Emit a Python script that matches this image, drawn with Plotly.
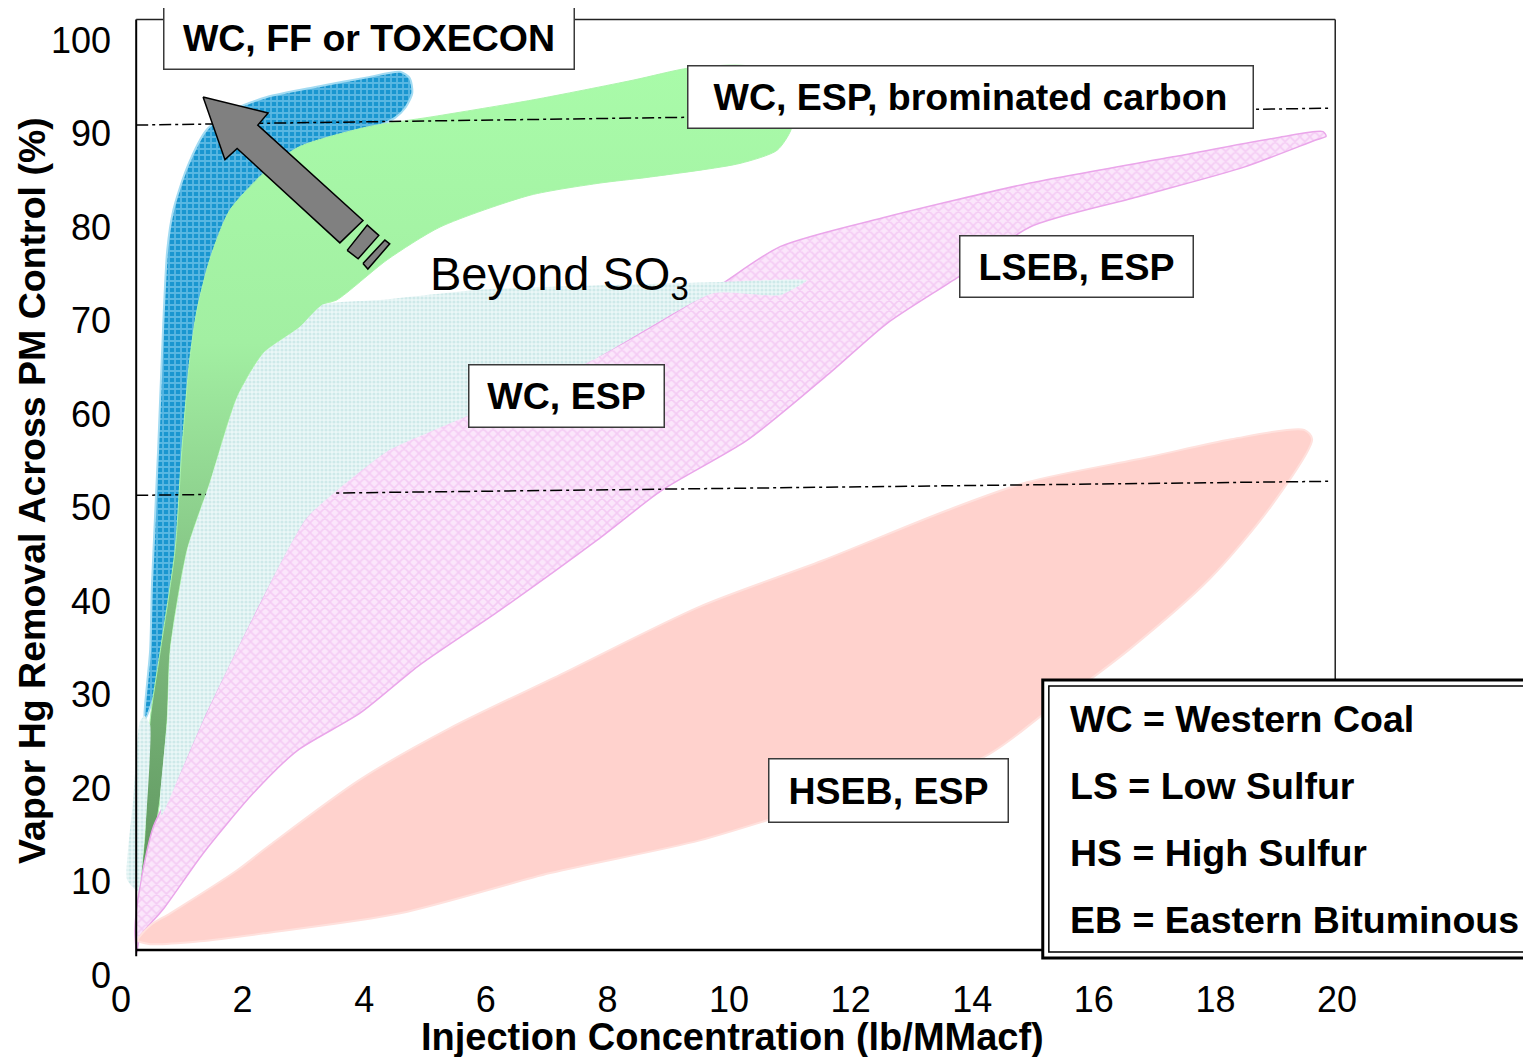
import plotly.graph_objects as go

# outlines of each performance band, x = injection (lb/MMacf), y = Hg removal (%)
toxecon_x = [0.39, 0.48, 0.51, 0.61, 0.67, 0.76, 0.86, 1.09, 1.41, 1.84, 2.40, 3.22, 4.05, 4.59, 4.75,
             4.79, 4.67, 4.51, 4.26, 3.27, 2.61, 1.96, 1.60, 1.35, 1.22, 1.07, 0.95, 0.77, 0.39]
toxecon_y = [27.3, 34.8, 41.9, 56.1, 65.8, 77.5, 81.8, 86.4, 90.4, 92.5, 93.9, 95.0, 96.0, 96.6, 95.9,
             94.3, 92.7, 91.7, 90.9, 88.8, 86.6, 81.8, 76.5, 71.1, 65.8, 56.1, 45.5, 34.8, 27.3]

brom_x = [0.28, 0.39, 0.48, 0.64, 0.89, 1.00, 1.13, 1.25, 1.46, 1.79, 2.45, 2.94, 4.05, 5.13, 6.78, 8.42,
          9.34, 10.18, 10.84, 11.09, 11.02, 10.79, 10.18, 8.65, 7.88, 6.73, 5.25, 4.38, 3.55, 3.32, 2.94,
          2.34, 1.91, 1.46, 1.09, 0.81, 0.76, 0.64, 0.48, 0.28]
brom_y = [7.0, 14.8, 27.3, 34.4, 45.5, 56.1, 65.8, 71.1, 76.5, 81.8, 86.4, 88.6, 90.7, 91.8, 93.6, 95.7,
          97.0, 97.3, 96.6, 93.6, 90.4, 88.2, 86.8, 85.3, 84.7, 83.4, 80.0, 76.5, 72.2, 71.7, 69.3,
          66.5, 61.8, 52.6, 45.5, 34.8, 27.3, 18.7, 12.3, 7.0]

wcesp_x = [3.32, 4.26, 5.90, 8.09, 9.74, 11.28, 10.84, 9.74, 7.83, 5.63, 4.38, 3.06, 2.17, 1.35, 0.92,
           0.67, 0.64, 0.76, 0.81, 1.09, 1.46, 1.91, 2.34, 2.94, 3.32, None,
           0.10, 0.20, 0.31, 0.39, 0.48, 0.39, 0.28, 0.10]
wcesp_y = [71.7, 72.2, 73.3, 73.8, 74.1, 74.3, 72.7, 72.9, 66.0, 59.6, 56.0, 48.9, 38.2, 27.2, 20.7,
           17.1, 18.7, 27.3, 34.8, 45.5, 52.6, 61.8, 66.5, 69.3, 71.7, None,
           10.2, 18.7, 27.1, 27.7, 26.7, 14.8, 9.0, 10.2]

lseb_x = [0.26, 0.23, 0.31, 0.53, 0.92, 1.35, 2.17, 3.06, 4.38, 5.46, 7.83, 9.74, 10.84, 12.60, 14.95,
          17.30, 19.06, 19.77, 19.82, 19.65, 18.47, 16.71, 14.95, 13.78, 12.60, 11.66, 10.30, 8.91,
          7.83, 6.23, 4.92, 3.93, 2.90, 2.17, 1.35, 0.69, 0.31, 0.26]
lseb_y = [2.4, 4.8, 9.4, 15.8, 20.9, 27.3, 38.3, 49.0, 56.1, 59.7, 66.1, 73.3, 77.9, 81.1, 84.7,
          87.5, 89.6, 90.2, 89.7, 89.3, 86.4, 83.2, 80.0, 74.7, 69.7, 64.4, 57.2, 51.9,
          46.5, 39.0, 33.2, 28.0, 24.0, 19.4, 13.0, 7.0, 4.1, 2.4]

hseb_x = [0.28, 0.48, 0.81, 1.91, 2.45, 3.93, 5.41, 7.22, 9.52, 11.53, 13.55, 14.90, 16.91, 18.26, 19.46,
          19.59, 18.91, 17.91, 16.58, 15.23, 14.16, 11.50, 9.52, 7.06, 4.59, 2.40, 1.30, 0.48, 0.28]
hseb_y = [3.7, 5.3, 6.6, 11.2, 13.9, 20.9, 26.4, 32.1, 39.4, 44.3, 49.6, 52.7, 55.4, 57.3, 58.3,
          57.3, 50.1, 42.4, 34.8, 28.2, 23.2, 18.3, 14.4, 10.9, 6.6, 4.5, 3.6, 3.3, 3.7]

# 90% and 50% reference lines
ref_x = [0.25, 19.88]
ref90_y = [90.9, 92.7]
ref50_y = [51.3, 52.8]

# big grey arrow (head + two broken tail pieces)
arrow_x = [1.35, 2.42, 2.25, 3.98, 3.60, 1.91, 1.71, 1.35, None,
           3.72, 4.05, 4.24, 3.90, 3.72, None,
           3.98, 4.34, 4.42, 4.06, 3.98]
arrow_y = [93.9, 92.2, 90.9, 80.7, 78.3, 88.4, 87.2, 93.9, None,
           77.5, 80.2, 79.1, 76.6, 77.5, None,
           76.1, 78.6, 78.2, 75.5, 76.1]

x_ticks = list(range(0, 21, 2))
y_ticks = list(range(0, 101, 10))

legend_lines = ['WC = Western Coal', 'LS = Low Sulfur', 'HS = High Sulfur', 'EB = Eastern Bituminous']
legend_y = [27.4, 20.2, 13.0, 5.9]

FONT = 'Liberation Sans, Arial, sans-serif'

fig = go.Figure()

fig.add_trace(go.Scatter(
    x=toxecon_x, y=toxecon_y, fill='toself', mode='lines',
    line=dict(color='#a3dbf2', width=2, shape='spline', smoothing=0.7), fillcolor='#2a9fd6',
    fillpattern=dict(shape='+', bgcolor='#1996d0', fgcolor='#9ad8f4', size=6, solidity=0.5),
    hoverinfo='skip', showlegend=False))

fig.add_trace(go.Scatter(
    x=brom_x, y=brom_y, fill='toself', mode='lines',
    line=dict(color='#acf5ac', width=1, shape='spline', smoothing=0.7),
    fillgradient=dict(type='vertical', start=5, stop=97,
                      colorscale=[[0, '#5a905a'], [0.3, '#78b478'], [0.5, '#8fd38f'],
                                  [0.68, '#a2efa2'], [1, '#a9fba9']]),
    hoverinfo='skip', showlegend=False))

fig.add_trace(go.Scatter(
    x=lseb_x, y=lseb_y, fill='toself', mode='lines',
    line=dict(color='#eaa6ea', width=1.5, shape='spline', smoothing=0.7), fillcolor='#f9dff9',
    fillpattern=dict(shape='x', bgcolor='#fbe6fb', fgcolor='#eeb0ee', size=7, solidity=0.4),
    hoverinfo='skip', showlegend=False))

fig.add_trace(go.Scatter(
    x=hseb_x, y=hseb_y, fill='toself', mode='lines',
    line=dict(color='#ffe1dd', width=2, shape='spline', smoothing=0.8), fillcolor='#ffd2cd',
    hoverinfo='skip', showlegend=False))

for ys in (ref90_y, ref50_y):
    fig.add_trace(go.Scatter(
        x=ref_x, y=ys, mode='lines',
        line=dict(color='black', width=1.5, dash='12px,4px,3px,4px'),
        hoverinfo='skip', showlegend=False))

fig.add_trace(go.Scatter(
    x=wcesp_x, y=wcesp_y, fill='toself', mode='lines',
    line=dict(width=0, shape='spline', smoothing=0.5), fillcolor='#e6f4f4',
    fillpattern=dict(shape='.', bgcolor='#ebf7f7', fgcolor='#b2dcdc', size=4, solidity=0.5),
    hoverinfo='skip', showlegend=False))

fig.add_trace(go.Scatter(
    x=arrow_x, y=arrow_y, fill='toself', mode='lines',
    line=dict(color='black', width=1.5), fillcolor='#808080',
    hoverinfo='skip', showlegend=False))

# frame and legend box
shapes = [
    dict(type='line', x0=0.25, x1=0.25, y0=2.0, y1=102.2, line=dict(color='black', width=2)),
    dict(type='line', x0=0.25, x1=19.97, y0=102.2, y1=102.2, line=dict(color='#222', width=1.5)),
    dict(type='line', x0=19.97, x1=19.97, y0=31.5, y1=102.2, line=dict(color='#222', width=1.5)),
    dict(type='line', x0=0.25, x1=15.16, y0=2.67, y1=2.67, line=dict(color='black', width=2.5)),
    dict(type='rect', x0=15.16, x1=23.6, y0=1.82, y1=31.55, fillcolor='white',
         line=dict(color='black', width=3)),
    dict(type='rect', x0=15.26, x1=23.6, y0=2.46, y1=30.9, line=dict(color='black', width=1.5)),
]
for s in shapes:
    s.update(xref='x', yref='y', layer='above')

annotations = []
boxes = [
    ('WC, FF or TOXECON', 4.08, 100.2, 409, 61),
    ('WC, ESP, brominated carbon', 13.97, 93.9, 564, 61),
    ('LSEB, ESP', 15.72, 75.8, 232, 60),
    ('WC, ESP', 7.33, 61.9, 194, 61),
    ('HSEB, ESP', 12.62, 19.7, 238, 62),
]
for txt, bx, by, w, h in boxes:
    annotations.append(dict(
        x=bx, y=by, xref='x', yref='y', text='<b>%s</b>' % txt, showarrow=False,
        width=w, height=h, borderpad=0, bgcolor='white', bordercolor='#3a3a3a', borderwidth=1.5,
        font=dict(family=FONT, size=37.5, color='black')))

annotations.append(dict(
    x=7.22, y=74.6, xref='x', yref='y', text='Beyond SO<sub>3</sub>', showarrow=False,
    font=dict(family=FONT, size=47, color='black')))

for txt, ly in zip(legend_lines, legend_y):
    annotations.append(dict(
        x=15.58, y=ly, xref='x', yref='y', xanchor='left', text='<b>%s</b>' % txt,
        showarrow=False, font=dict(family=FONT, size=37.5, color='black')))

annotations.append(dict(
    x=0.437, y=-0.0641, xref='paper', yref='paper', xanchor='center', yanchor='middle',
    showarrow=False, text='<b>Injection Concentration (lb/MMacf)</b>',
    font=dict(family=FONT, size=38, color='black')))
annotations.append(dict(
    x=-0.0564, y=0.5016, xref='paper', yref='paper', xanchor='center', yanchor='middle',
    showarrow=False, textangle=-90,
    text='<b>Vapor Hg Removal Across PM Control (%)</b>',
    font=dict(family=FONT, size=37.5, color='black')))

# page adds an 8px body margin, so the figure is drawn 8px smaller
fig.update_layout(
    width=1523, height=1049,
    margin=dict(l=104, r=0, t=0, b=82),
    plot_bgcolor='white', paper_bgcolor='white',
    shapes=shapes, annotations=annotations,
    xaxis=dict(range=[-0.148, 23.19], tickvals=x_ticks, showgrid=False, zeroline=False,
               showline=False, ticks='', automargin=False,
               tickfont=dict(family=FONT, size=36, color='black')),
    yaxis=dict(range=[0, 103.42], tickvals=y_ticks, showgrid=False, zeroline=False,
               showline=False, ticks='', automargin=False,
               tickfont=dict(family=FONT, size=36, color='black')),
)

fig.write_html('out.html')
